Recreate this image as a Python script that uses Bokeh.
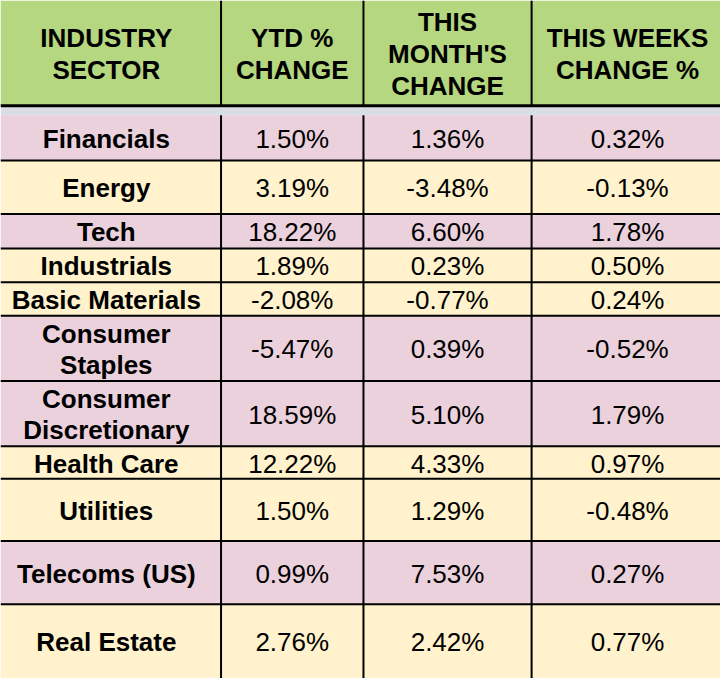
from bokeh.plotting import figure
from bokeh.models import Range1d, ColumnDataSource
from bokeh.core.properties import value
from bokeh.embed import file_html
from bokeh.resources import INLINE

# ---- data ----
sectors = ["Financials", "Energy", "Tech", "Industrials", "Basic Materials",
           "Consumer\nStaples", "Consumer\nDiscretionary", "Health Care",
           "Utilities", "Telecoms (US)", "Real Estate"]
ytd_change = [1.50, 3.19, 18.22, 1.89, -2.08, -5.47, 18.59, 12.22, 1.50, 0.99, 2.76]
month_change = [1.36, -3.48, 6.60, 0.23, -0.77, 0.39, 5.10, 4.33, 1.29, 7.53, 2.42]
week_change = [0.32, -0.13, 1.78, 0.50, 0.24, -0.52, 1.79, 0.97, -0.48, 0.27, 0.77]
headers = ["INDUSTRY\nSECTOR", "YTD %\nCHANGE", "THIS\nMONTH'S\nCHANGE", "THIS WEEKS\nCHANGE %"]

# ---- layout (reference pixel coordinates) ----
W, H = 728, 686
col_edges = [0, 223, 367, 537, W]
col_centers = [107, 295, 452, 634]
header_bottom = 106.5
band_bottom = 116
row_edges = [116, 162, 216, 251, 285, 319, 385, 451, 484, 547, 611, 686]
row_kind = ["p", "y", "p", "y", "y", "p", "p", "y", "y", "p", "y"]
PINK, YELLOW, GREEN, GREY = "#ead1dc", "#fff2cc", "#b5d77f", "#d9dde5"
LINE_H = 32
FONT = value("Liberation Sans")
FS = "26px"

p = figure(width=720, height=678, x_range=Range1d(0, W), y_range=Range1d(H, 0),
           output_backend="svg", toolbar_location=None, min_border=0)
p.axis.visible = False
p.grid.visible = False
p.outline_line_color = None
p.background_fill_color = "white"
p.border_fill_color = "white"

# header background and grey band
p.quad(left=[0], right=[W], top=[0], bottom=[header_bottom], fill_color=GREEN, line_color=None)
p.quad(left=[0], right=[W], top=[header_bottom], bottom=[band_bottom], fill_color=GREY, line_color=None)

# row cells
n = len(sectors)
p.quad(left=[0] * n, right=[W] * n, top=row_edges[:-1], bottom=row_edges[1:],
       fill_color=[PINK if k == "p" else YELLOW for k in row_kind], line_color=None)

# grid lines
vx = col_edges[1:4]
p.segment(x0=vx, x1=vx, y0=[0] * 3, y1=[header_bottom] * 3, line_color="black", line_width=2)
p.segment(x0=vx, x1=vx, y0=[band_bottom] * 3, y1=[H + 5] * 3, line_color="black", line_width=2)
p.segment(x0=[0], x1=[W], y0=[header_bottom], y1=[header_bottom], line_color="black", line_width=3)
hy = row_edges[1:-1]
p.segment(x0=[0] * len(hy), x1=[W] * len(hy), y0=hy, y1=hy, line_color="black", line_width=2)

# header texts
hx, hyt, ht = [], [], []
for ci, h in enumerate(headers):
    lines = h.split("\n")
    mid = header_bottom / 2
    start = mid - (len(lines) - 1) * LINE_H / 2
    for li, t in enumerate(lines):
        hx.append(col_centers[ci])
        hyt.append(start + li * LINE_H + 1)
        ht.append(t)
p.text(x=hx, y=hyt, text=ht, text_align="center", text_baseline="middle",
       text_font=FONT, text_font_size=FS, text_font_style="bold", text_color="black")

# body texts
sx, sy, st = [], [], []
vx_, vy_, vt_ = [], [], []
for i in range(n):
    cy = (row_edges[i] + row_edges[i + 1]) / 2 + 1
    lines = sectors[i].split("\n")
    start = cy - (len(lines) - 1) * LINE_H / 2
    for li, t in enumerate(lines):
        sx.append(col_centers[0]); sy.append(start + li * LINE_H); st.append(t)
    for ci, arr in enumerate([ytd_change, month_change, week_change]):
        vx_.append(col_centers[ci + 1]); vy_.append(cy); vt_.append("%.2f%%" % arr[i])
p.text(x=sx, y=sy, text=st, text_align="center", text_baseline="middle",
       text_font=FONT, text_font_size=FS, text_font_style="bold", text_color="black")
p.text(x=vx_, y=vy_, text=vt_, text_align="center", text_baseline="middle",
       text_font=FONT, text_font_size=FS, text_color="black")

open("out.html", "w").write(file_html(p, INLINE))
